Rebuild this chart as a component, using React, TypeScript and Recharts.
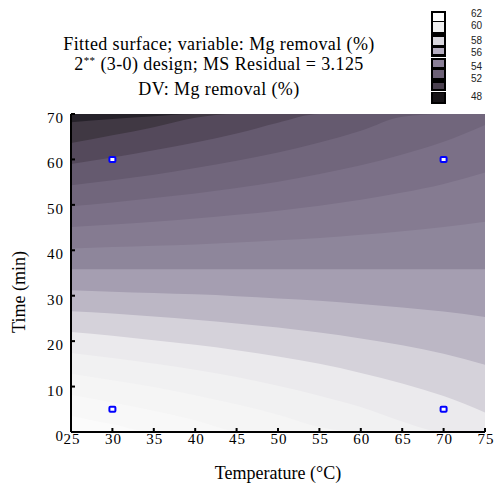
import { ComposedChart, Area, Scatter, XAxis, YAxis, CartesianGrid } from "recharts";

const temps = [25, 30, 35, 40, 45, 50, 55, 60, 65, 70, 75];

// contour lines: time (min) of each iso-line at each temperature, bottom to top
const iso1 = [3.6, 1.7, 0, 0, 0, 0, 0, 0, 0, 0, 0];
const iso2 = [8.2, 6.5, 4.7, 2.6, 0.2, 0, 0, 0, 0, 0, 0];
const iso3 = [12.8, 11.4, 9.9, 8.1, 6.1, 3.8, 1.1, 0, 0, 0, 0];
const iso4 = [17.4, 16.3, 15.1, 13.7, 12.1, 10.2, 8.0, 5.5, 2.3, 0, 0];
const iso5 = [22.0, 21.2, 20.2, 19.2, 18.0, 16.6, 15.0, 13.0, 10.7, 7.9, 4.3];
const iso6 = [26.6, 26.1, 25.4, 24.7, 23.9, 23.0, 21.9, 20.6, 19.1, 17.2, 14.8];
const iso7 = [31.2, 30.9, 30.6, 30.3, 29.9, 29.4, 28.9, 28.2, 27.4, 26.5, 25.3];
const iso8 = [35.8, 35.8, 35.8, 35.8, 35.8, 35.8, 35.8, 35.8, 35.8, 35.8, 35.8];
const iso9 = [40.4, 40.7, 41.0, 41.3, 41.7, 42.2, 42.7, 43.4, 44.2, 45.1, 46.3];
const iso10 = [45.1, 45.7, 46.3, 47.0, 47.8, 48.7, 49.8, 51.1, 52.7, 54.6, 57.1];
const iso11 = [49.7, 50.5, 51.5, 52.5, 53.7, 55.1, 56.8, 58.7, 61.1, 63.9, 67.6];
const iso12 = [54.3, 55.4, 56.6, 58.1, 59.7, 61.5, 63.7, 66.3, 69.4, 70, 70];
const iso13 = [59.0, 60.4, 62.0, 63.7, 65.7, 68.1, 70, 70, 70, 70, 70];
const iso14 = [63.6, 65.3, 67.1, 69.2, 70, 70, 70, 70, 70, 70, 70];
const iso15 = [68.2, 68.9, 69.5, 70, 70, 70, 70, 70, 70, 70, 70];

// fill of the band under each iso-line (index 15 = band above the last line)
const bandColors = [
  "#fbfbfb", "#f8f8f8", "#f5f5f5", "#f1f1f2", "#ebeaed", "#d5d2da",
  "#bcb7c5", "#a59eb1", "#8e869b", "#857b91", "#7b7087", "#71667c",
  "#655a6f", "#54495b", "#403843", "#26222a",
];

// experimental design points
const designTemp = [30, 30, 70, 70];
const designTime = [5, 60, 5, 60];

const xTicks = [25, 30, 35, 40, 45, 50, 55, 60, 65, 70, 75];
const yTicks = [0, 10, 20, 30, 40, 50, 60, 70];

const legendLabels = ["62", "60", "58", "56", "54", "52", "48"];
const legendColors = ["#ffffff", "#f0f0f1", "#d9d7de", "#b4adc0", "#8a7f97", "#6d6177", "#4a404f", "#161316"];

const isoLines = [iso1, iso2, iso3, iso4, iso5, iso6, iso7, iso8, iso9, iso10, iso11, iso12, iso13, iso14, iso15];

const data = temps.map((T, i) => {
  const row: Record<string, number> = { T };
  isoLines.forEach((line, k) => {
    row["iso" + (k + 1)] = line[i];
  });
  return row;
});

const points = designTemp.map((T, i) => ({ T, t: designTime[i] }));

const serif = "'Liberation Serif', 'Times New Roman', serif";
const serifStyle = { fontFamily: serif };

const BottomTick = (p: any) => (
  <g>
    <line x1={p.x} x2={p.x} y1={p.y} y2={p.y - 4} stroke="#000" strokeWidth={2} />
    <text x={p.x + 1} y={p.y + 12} textAnchor="middle" style={serifStyle} fontSize={15} letterSpacing={1} fill="#000">
      {p.payload.value}
    </text>
  </g>
);

const TopTick = (p: any) => (
  <line x1={p.x} x2={p.x} y1={p.y} y2={p.y + 4} stroke="#000" strokeWidth={2} />
);

const LeftTick = (p: any) => (
  <g>
    <line x1={p.x} x2={p.x + 4} y1={p.y} y2={p.y} stroke="#000" strokeWidth={2} />
    <text x={p.x - 7} y={p.y + 9} textAnchor="end" style={serifStyle} fontSize={15} letterSpacing={1} fill="#000">
      {p.payload.value}
    </text>
  </g>
);

const RightTick = (p: any) => (
  <line x1={p.x} x2={p.x - 4} y1={p.y} y2={p.y} stroke="#000" strokeWidth={2} />
);

const Marker = (p: any) => (
  <rect x={p.cx - 3} y={p.cy - 2.5} width={6} height={5} rx={1} fill="#fff" stroke="#0000ff" strokeWidth={2} />
);

function ColorLegend() {
  const boxes = [
    [13, 21], [22, 32], [37, 45], [48, 54], [60, 67], [70, 78], [83, 89], [93, 102],
  ];
  const labelY = [17, 29, 44, 56, 70, 82, 100];
  return (
    <svg width={80} height={110} style={{ position: "absolute", left: 420, top: 0 }}>
      <rect x={11} y={11} width={15} height={46} fill="#000" />
      <rect x={11} y={58} width={15} height={33} fill="#000" />
      <rect x={11} y={92} width={15} height={12} fill="#000" />
      {boxes.map(([a, b], i) => (
        <rect key={i} x={13} y={a} width={11} height={b - a} fill={legendColors[i]} />
      ))}
      {legendLabels.map((l, i) => (
        <text key={l} x={51} y={labelY[i]} style={{ fontFamily: "'Liberation Sans', Arial, sans-serif" }} fontSize={10} fill="#222">
          {l}
        </text>
      ))}
    </svg>
  );
}

export default function App() {
  return (
    <div style={{ position: "absolute", left: 0, top: 0, width: 503, height: 489, background: "#fff", overflow: "hidden" }}>
      <div style={{ position: "absolute", left: 0, top: 0, width: 438, textAlign: "center", fontFamily: serif, fontSize: 18, letterSpacing: 0.4, color: "#000", lineHeight: "20px" }}>
        <div style={{ position: "absolute", top: 34, width: "100%" }}>Fitted surface; variable: Mg removal (%)</div>
        <div style={{ position: "absolute", top: 54, width: "100%" }}>
          2<sup style={{ fontSize: 11, verticalAlign: "6px", lineHeight: 0 }}>**</sup> (3-0) design; MS Residual = 3.125
        </div>
        <div style={{ position: "absolute", top: 79, width: "100%" }}>DV: Mg removal (%)</div>
      </div>
      <ColorLegend />
      <svg width={40} height={489} style={{ position: "absolute", left: 0, top: 0 }}>
        <text x={25} y={292} transform="rotate(-90, 25, 292)" textAnchor="middle" style={serifStyle} fontSize={18} fill="#000">
          Time (min)
        </text>
      </svg>
      <div style={{ position: "absolute", left: 0, top: 0 }}>
        <ComposedChart width={503} height={489} data={data} margin={{ top: 114, right: 18, bottom: 0, left: 0 }}>
          <CartesianGrid horizontal={false} vertical={false} fill={bandColors[15]} />
          <XAxis
            xAxisId={0}
            dataKey="T"
            type="number"
            domain={[25, 75]}
            ticks={xTicks}
            height={57}
            tickSize={0}
            tickMargin={0}
            axisLine={{ stroke: "#000", strokeWidth: 2 }}
            tick={<BottomTick />}
            interval={0}
            label={{ value: "Temperature (°C)", position: "insideBottom", offset: 10, style: serifStyle, fontSize: 18, fill: "#000" }}
          />
          <XAxis
            xAxisId="top"
            orientation="top"
            dataKey="T"
            type="number"
            domain={[25, 75]}
            ticks={xTicks}
            height={0}
            tickSize={0}
            axisLine={{ stroke: "#000", strokeWidth: 2 }}
            tick={<TopTick />}
            interval={0}
          />
          <YAxis
            yAxisId={0}
            type="number"
            domain={[0, 70]}
            ticks={yTicks}
            width={71}
            tickSize={0}
            tickMargin={0}
            axisLine={{ stroke: "#000", strokeWidth: 2 }}
            tick={<LeftTick />}
            interval={0}
          />
          <YAxis
            yAxisId="right"
            orientation="right"
            type="number"
            domain={[0, 70]}
            ticks={yTicks}
            width={0}
            tickSize={0}
            axisLine={{ stroke: "#000", strokeWidth: 2 }}
            tick={<RightTick />}
            interval={0}
          />
          {isoLines
            .map((_, k) => k)
            .reverse()
            .map((k) => (
              <Area
                key={k}
                dataKey={"iso" + (k + 1)}
                type="monotone"
                stroke="none"
                fill={bandColors[k]}
                fillOpacity={1}
                baseValue={0}
                dot={false}
                activeDot={false}
                isAnimationActive={false}
              />
            ))}
          <Scatter data={points} dataKey="t" shape={<Marker />} isAnimationActive={false} />
        </ComposedChart>
      </div>
    </div>
  );
}
